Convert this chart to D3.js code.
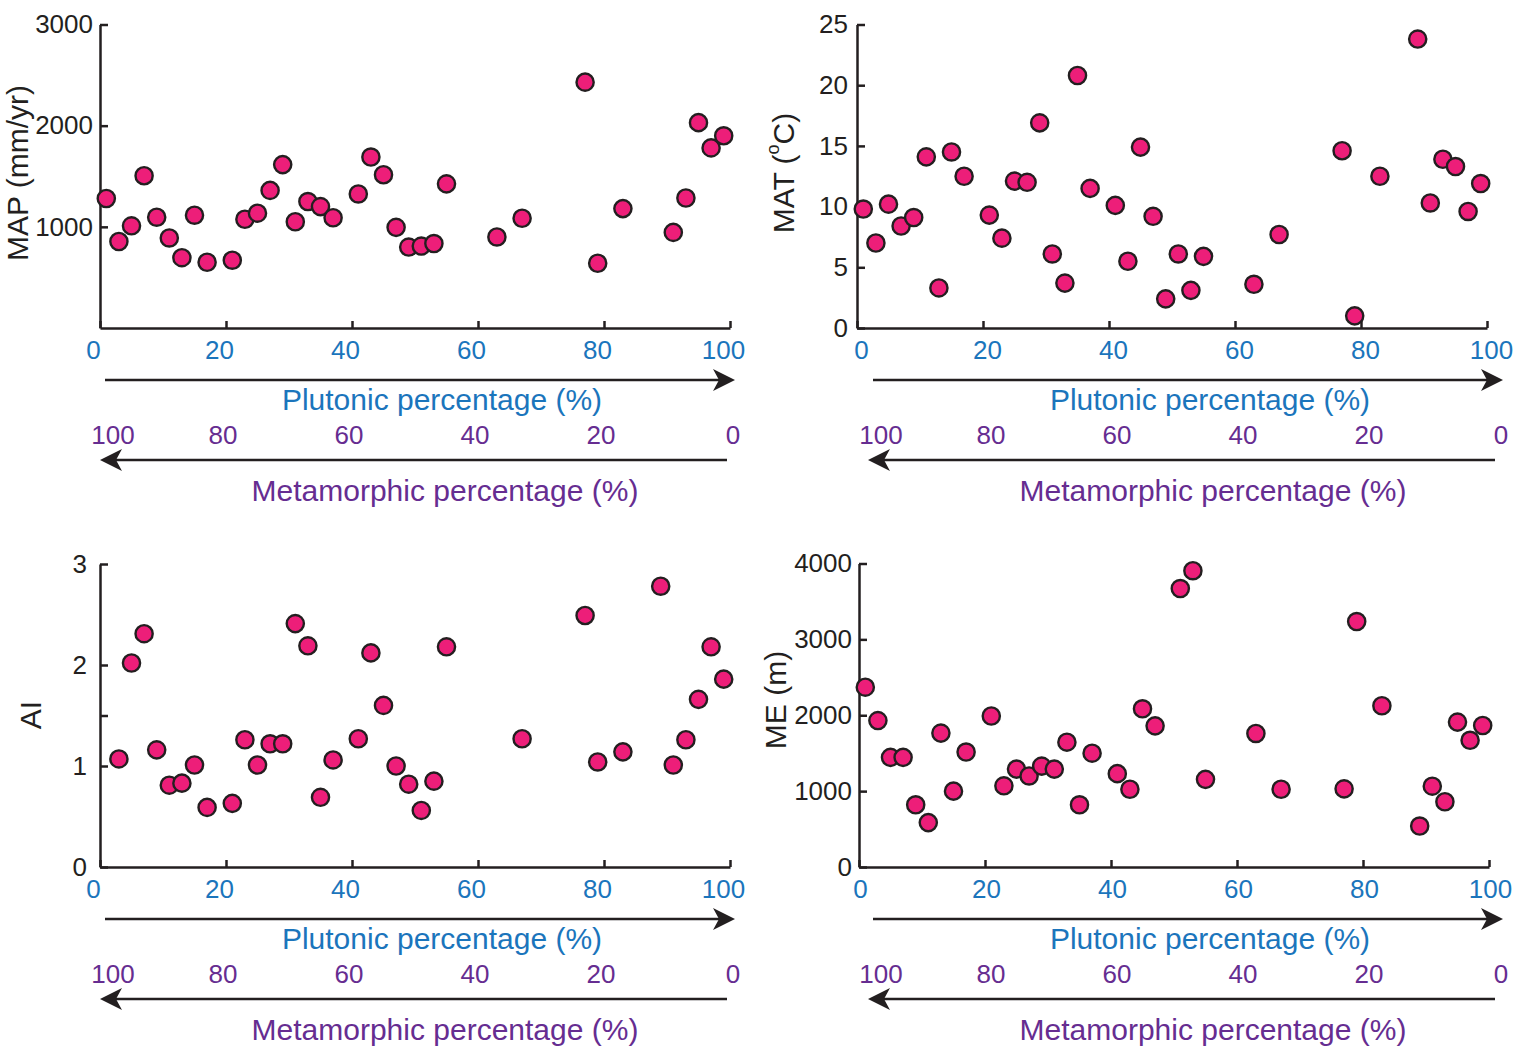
<!DOCTYPE html>
<html>
<head>
<meta charset="utf-8">
<script src="https://cdn.jsdelivr.net/npm/d3@7"></script>
<style>
  body { margin: 0; background: #fff; }
  svg { display: block; }
</style>
</head>
<body>
<script>
// ---- data ----
// x = plutonic percentage (%), one value per site
let mapX = [1,3,5,7,9,11,13,15,17,21,23,25,27,29,31,33,35,37,41,43,45,47,49,51,53,55,63,67,77,79,83,91,93,95,97,99];
let mapY = [1280,855,1010,1505,1095,890,695,1115,650,670,1075,1135,1360,1615,1050,1250,1200,1090,1325,1690,1515,995,800,810,835,1425,900,1085,2430,640,1180,945,1285,2030,1780,1900];

let matX = [1,3,5,7,9,11,13,15,17,21,23,25,27,29,31,33,35,37,41,43,45,47,49,51,53,55,63,67,77,79,83,89,91,93,95,97,99];
let matY = [9.8,7.0,10.2,8.4,9.1,14.1,3.3,14.5,12.5,9.3,7.4,12.1,12.0,16.9,6.1,3.7,20.8,11.5,10.1,5.5,14.9,9.2,2.4,6.1,3.1,5.9,3.6,7.7,14.6,1.0,12.5,23.8,10.3,13.9,13.3,9.6,11.9];

let aiX = [3,5,7,9,11,13,15,17,21,23,25,27,29,31,33,35,37,41,43,45,47,49,51,53,55,67,77,79,83,89,91,93,95,97,99];
let aiY = [1.07,2.02,2.31,1.16,0.81,0.83,1.01,0.59,0.63,1.26,1.01,1.22,1.22,2.41,2.19,0.69,1.06,1.27,2.12,1.60,1.00,0.82,0.56,0.85,2.18,1.27,2.49,1.04,1.14,2.78,1.01,1.26,1.66,2.18,1.86];

let meX = [1,3,5,7,9,11,13,15,17,21,23,25,27,29,31,33,35,37,41,43,45,47,51,53,55,63,67,77,79,83,89,91,93,95,97,99];
let meY = [2370,1930,1445,1445,820,585,1765,1000,1515,1990,1070,1290,1200,1330,1290,1645,820,1500,1230,1025,2085,1860,3670,3905,1155,1760,1025,1030,3235,2125,540,1065,860,1910,1670,1865];

// tick labels
let plutonicTicks = [0,20,40,60,80,100];
let metamorphicTicks = [100,80,60,40,20,0];

let inkColor = '#231f20';
let blue = '#1b75bc';
let purple = '#662d91';
let pink = '#ed1e79';
let font = '"Liberation Sans", Arial, Helvetica, sans-serif';

let svg = d3.select('body')
  .append('svg')
  .attr('width', 1514)
  .attr('height', 1050);

//one entry per panel, layout only
let panels = [
  {xs: mapX, ys: mapY, x0: 100, top: 24.5, bottom: 328, ymax: 3000, xdx: -7, ypad: 7,
   yTicks: [1000,2000,3000], yLabeled: [1000,2000,3000], label: 'MAP (mm/yr)', lx: 17, ly: 173, ann: 100},
  {xs: matX, ys: matY, x0: 857, top: 24.5, bottom: 328, ymax: 25, xdx: 4, ypad: 9,
   yTicks: [0,5,10,15,20,25], yLabeled: [0,5,10,15,20,25], label: 'MAT', lx: 783, ly: 173, ann: 868},
  {xs: aiX, ys: aiY, x0: 100, top: 564, bottom: 867, ymax: 3, xdx: -7, ypad: 13,
   yTicks: [0,1,1.5,2,3], yLabeled: [0,1,2,3], label: 'AI', lx: 30, ly: 715, ann: 100},
  {xs: meX, ys: meY, x0: 859, top: 563.5, bottom: 867, ymax: 4000, xdx: 1, ypad: 7,
   yTicks: [0,1000,2000,3000,4000], yLabeled: [0,1000,2000,3000,4000], label: 'ME (m)', lx: 775, ly: 700, ann: 868}
];

//stealth style arrowhead, tip at (tx,ty), dir = 1 right / -1 left
function arrowHead(tx, ty, dir) {
  return `M${tx},${ty} L${tx - dir*22},${ty - 11} L${tx - dir*16},${ty} L${tx - dir*22},${ty + 11} Z`;
}

function styleAxis(sel) {
  sel.attr('font-family', font).attr('font-size', 26);
  sel.select('.domain').attr('stroke', inkColor).attr('stroke-width', 2.5);
  sel.selectAll('.tick line').attr('stroke', inkColor).attr('stroke-width', 2.5);
}

panels.forEach(function(p) {
  let x = d3.scaleLinear().domain([0, 100]).range([p.x0, p.x0 + 630]);
  let y = d3.scaleLinear().domain([0, p.ymax]).range([p.bottom, p.top]);
  let g = svg.append('g');

  // x axis, inward ticks, blue labels
  let xa = g.append('g')
    .attr('transform', `translate(0,${p.bottom})`)
    .call(d3.axisBottom(x).tickValues(plutonicTicks).tickSize(-7).tickSizeOuter(0).tickPadding(13));
  styleAxis(xa);
  xa.selectAll('.tick text').attr('fill', blue).attr('dx', p.xdx);

  // y axis
  let ya = g.append('g')
    .attr('transform', `translate(${p.x0},0)`)
    .call(d3.axisLeft(y).tickValues(p.yTicks).tickSize(-8).tickSizeOuter(0).tickPadding(p.ypad)
      .tickFormat(d => p.yLabeled.includes(d) ? d : ''));
  styleAxis(ya);
  ya.selectAll('.tick text').attr('fill', inkColor);

  // y title
  let yt = g.append('text')
    .attr('transform', `translate(${p.lx},${p.ly}) rotate(-90)`)
    .attr('text-anchor', 'middle')
    .attr('dominant-baseline', 'central')
    .attr('font-family', font)
    .attr('font-size', 30)
    .attr('fill', inkColor);
  if (p.label === 'MAT') {
    yt.append('tspan').text('MAT (');
    yt.append('tspan').attr('font-size', 18).attr('dy', -10).text('o');
    yt.append('tspan').attr('dy', 10).text('C)');
  } else {
    yt.text(p.label);
  }

  // points
  g.selectAll('circle')
    .data(p.xs)
    .enter().append('circle')
    .attr('cx', d => x(d))
    .attr('cy', (d, i) => y(p.ys[i]))
    .attr('r', 8.6)
    .attr('fill', pink)
    .attr('stroke', inkColor)
    .attr('stroke-width', 2.4);

  // plutonic arrow + label
  let ay = p.bottom + 52;
  g.append('line')
    .attr('x1', p.ann + 5).attr('x2', p.ann + 622)
    .attr('y1', ay).attr('y2', ay)
    .attr('stroke', inkColor).attr('stroke-width', 2.5);
  g.append('path').attr('d', arrowHead(p.ann + 635, ay, 1)).attr('fill', inkColor);
  g.append('text')
    .attr('x', p.ann + 342).attr('y', p.bottom + 71)
    .attr('text-anchor', 'middle').attr('dominant-baseline', 'central')
    .attr('font-family', font).attr('font-size', 30).attr('fill', blue)
    .text('Plutonic percentage (%)');

  // metamorphic scale (reversed)
  let shift = p.ann - p.x0;
  g.selectAll('text.met')
    .data(metamorphicTicks)
    .enter().append('text')
    .attr('class', 'met')
    .attr('x', d => x(100 - d) + shift + (d === 100 ? 13 : d === 0 ? 3 : -3))
    .attr('y', p.bottom + 107)
    .attr('text-anchor', 'middle').attr('dominant-baseline', 'central')
    .attr('font-family', font).attr('font-size', 26).attr('fill', purple)
    .text(d => d);

  let my = p.bottom + 132;
  g.append('line')
    .attr('x1', p.ann + 627).attr('x2', p.ann + 12)
    .attr('y1', my).attr('y2', my)
    .attr('stroke', inkColor).attr('stroke-width', 2.5);
  g.append('path').attr('d', arrowHead(p.ann, my, -1)).attr('fill', inkColor);
  g.append('text')
    .attr('x', p.ann + 345).attr('y', p.bottom + 162)
    .attr('text-anchor', 'middle').attr('dominant-baseline', 'central')
    .attr('font-family', font).attr('font-size', 30).attr('fill', purple)
    .text('Metamorphic percentage (%)');
});
</script>
</body>
</html>
